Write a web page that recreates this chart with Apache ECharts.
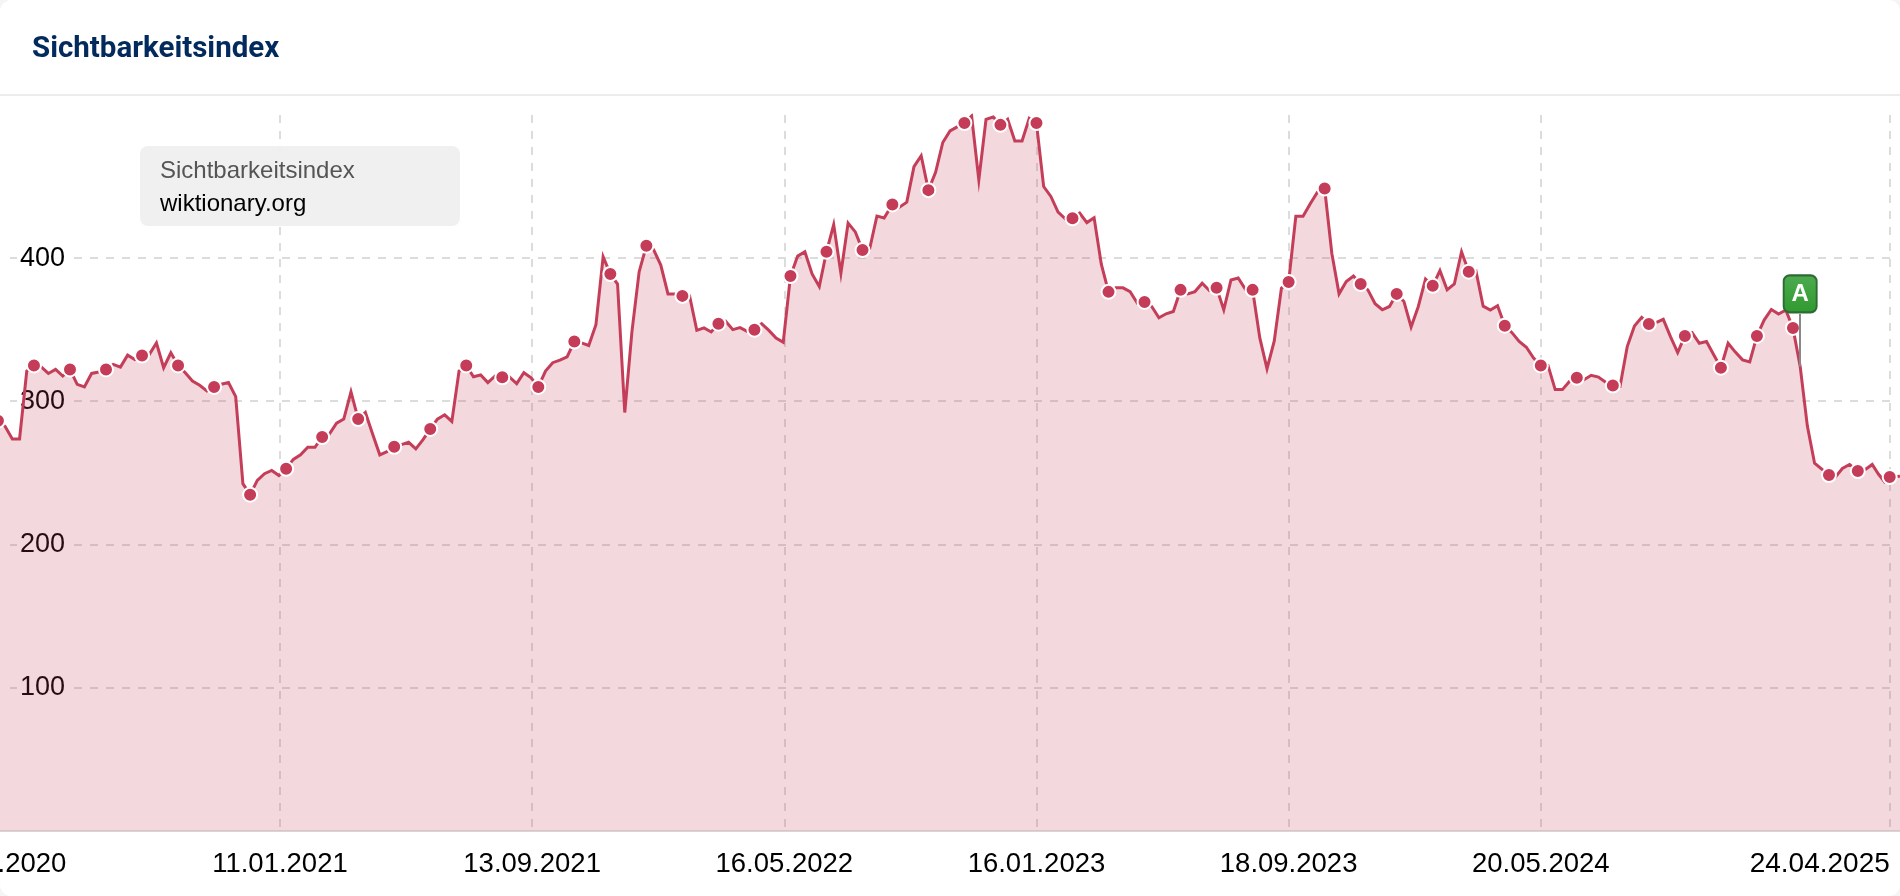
<!DOCTYPE html>
<html>
<head>
<meta charset="utf-8">
<style>
html,body{margin:0;padding:0;background:#f5f5f6;width:1900px;height:896px;overflow:hidden}
#card{width:1900px;height:896px;border-radius:12px;overflow:hidden;background:#fff}
#chart{width:1900px;height:896px}
</style>
<script src="https://cdn.jsdelivr.net/npm/echarts@6/dist/echarts.min.js"></script>
</head>
<body>
<div id="card"><div id="chart"></div></div>
<script>
const chartTitle = 'Sichtbarkeitsindex';
const boxLine1 = 'Sichtbarkeitsindex';
const boxLine2 = 'wiktionary.org';

// Rows of five: the last value of each row carries a marker.
const valuesFirstRun = [286.3,
  282.4,273.6,273.6,321.1,325,
  324,319.4,322.2,317.6,322.2,
  311.8,310,319.4,320.4,322.2,
  325.7,323.8,332.2,329.2,331.9,
  332.6,340.7,323.4,333.8,325,
  319.9,314.1,311.1,307.2,310,
  311.8,313,303.2,242.4,234.7,
  244.7,249.3,251.6,248.1,252.8,
  259.3,262.5,267.8,267.8,275,
  277.1,284.7,287.5,306.5,287.5,
  292.1,277.1,262.5,264.8,268.1,
  269.7,271.3,266.7,273.1,280.6,
  287.5,290.5,285.9,321.1,325,
  317.1,318.3,313,317.6,316.7,
  316.9,312.3,319.9,316.4,310,
  321.1,326.9,328.7,331,341.7,
  340.7,338.9,353.5,400.9,388.9,
  381.9,292.1,348.8,390.5,408.6,
  406,395.1,375,375,373.6,
  373.6,349.5,351.2,348.4,354.2,
  355.8,350,351.4,348.8,350,
  354.2,349.5,344.2,341.2,387.5,
  401.4,404.4,388.9,380.1,404.4,
  423.4,389.4,424.5,418.3,405.6];
const valuesBridge = [406.7,429.4,428];
const valuesSecondRun = [437.5,
  435.6,439.1,463.9,471.5,447.5,
  460,480.8,488.9,491.7,494.4,
  499.3,454.6,497,498.6,493.1,
  497,481.9,481.9,497.7,494.4,
  450,443.1,432.2,427.5,427.8,
  431.5,424.8,428.2,395.8,376.4,
  379.2,379.2,376.6,368.5,369.4,
  366.2,358.3,361.1,362.7,377.8,
  375,376.6,382.4,377.3,379.2,
  363.9,384.7,386.1,378.2,377.8,
  344.2,322.7,341.9,378.9,383.3,
  429.2,429.2,438,446.1,448.6,
  403.2,375,383.6,387.5,381.9,
  377.8,368.1,363.9,366.2,375,
  369.7,351.9,366.2,385.4,380.6,
  391.2,377.8,381.9,404.4,390.5,
  391,366.4,363.7,366.7,352.8,
  347.9,341.7,337.7,330.1,325,
  325,308.1,308.1,313.9,316.4,
  315,318.1,316.9,313.2,310.9,
  310.4,338.2,352.5,358.6,353.9,
  354.9,357.2,345.1,334,345.6,
  347.9,340.5,341.7,332.4,323.4,
  340.5,334.3,328.9,327.5,345.6,
  356.7,364.1,360.9,363.7,351.2,
  324.3,282.6,256.7,252.5,248.4];
const valuesTail = [246.8,253,255.8,251.2,251.6,255.8,249.1,243.7,247,247.5];

const bridgeDates = ['2022-08-07','2022-08-14','2022-08-21'];
const tailDates = ['2025-03-02','2025-03-09','2025-03-16','2025-03-24','2025-03-30','2025-04-07','2025-04-13','2025-04-19','2025-04-24','2025-05-04'];
const tickDates = ['2020-04-14','2021-01-11','2021-09-13','2022-05-16','2023-01-16','2023-09-18','2024-05-20','2025-04-24'];
const yTicks = [100,200,300,400];
const axisStart = '2020-04-14';
const axisEnd = '2025-05-04';
const eventDate = '2025-01-27';
const eventStem = [324.3, 361];
const eventBox = 375;

const DAY = 86400000;
const ts = s => Date.parse(s + 'T00:00:00Z');
function weekly(start, n){ const a=[]; for(let i=0;i<n;i++) a.push(ts(start)+i*7*DAY); return a; }

const dates = [].concat(
  weekly('2020-04-12', valuesFirstRun.length),
  bridgeDates.map(ts),
  weekly('2022-08-29', valuesSecondRun.length),
  tailDates.map(ts)
);
const values = [].concat(valuesFirstRun, valuesBridge, valuesSecondRun, valuesTail);
const linePoints = dates.map((d,i)=>[d,values[i]]);

const markerIdx = [];
for(let i=0;i<valuesFirstRun.length;i+=5) markerIdx.push(i);
const secondStart = valuesFirstRun.length + valuesBridge.length;
for(let i=0;i<valuesSecondRun.length;i+=5) markerIdx.push(secondStart+i);
const tailStart = secondStart + valuesSecondRun.length;
markerIdx.push(tailStart+3, tailStart+8);
const markerPoints = markerIdx.map(i=>linePoints[i]);

const LINE = '#c43e59';
const fmt = v => { const d=new Date(v); const p=n=>String(n).padStart(2,'0');
  return p(d.getUTCDate())+'.'+p(d.getUTCMonth()+1)+'.'+d.getUTCFullYear(); };
const firstTick = ts(tickDates[0]);
const lastTick = ts(tickDates[tickDates.length-1]);

const chart = echarts.init(document.getElementById('chart'), null, {renderer:'canvas', width:1900, height:896});
chart.setOption({
  animation:false,
  backgroundColor:'#fff',
  textStyle:{fontFamily:'"Liberation Sans",Arial,sans-serif'},
  title:{text:chartTitle,left:32,top:35,padding:0,
    textStyle:{fontFamily:'Roboto',fontWeight:700,fontSize:29.5,color:'#022a5c',lineHeight:30}},
  grid:{left:0,right:0,top:115,bottom:65.5,containLabel:false,outerBoundsMode:'none'},
  xAxis:{
    type:'value',min:ts(axisStart),max:ts(axisEnd),scale:true,
    axisLine:{show:true,lineStyle:{color:'#dcd3d5',width:2}},
    axisTick:{show:false,customValues:tickDates.map(ts)},
    axisLabel:{
      customValues:tickDates.map(ts),
      showMinLabel:true,showMaxLabel:true,hideOverlap:false,
      margin:20,color:'#000',fontSize:27.5,fontFamily:'"Liberation Sans"',
      formatter:v=> v===lastTick ? '{last|'+fmt(v)+'}' : v===firstTick ? '{first|'+fmt(v)+'}' : fmt(v),
      rich:{
        last:{fontSize:28,color:'#000',fontFamily:'"Liberation Sans"',padding:[0,140,0,0]},
        first:{fontSize:27.5,color:'#000',fontFamily:'"Liberation Sans"',padding:[0,5,0,0]}
      }
    },
    splitLine:{show:true,lineStyle:{color:'#dcdcdc',width:2,type:[8,8]}}
  },
  yAxis:{
    type:'value',min:0,max:500,interval:100,
    axisLine:{show:false},
    axisTick:{show:false,customValues:yTicks},
    axisLabel:{
      customValues:yTicks,inside:true,margin:17,color:'#000',fontSize:27,
      fontFamily:'"Liberation Sans"',backgroundColor:'#fff',padding:[0,7,0,3]
    },
    splitLine:{show:true,lineStyle:{color:'#dcdcdc',width:2,type:[8,8],dashOffset:6}}
  },
  graphic:[
    {type:'rect',z:1,silent:true,shape:{x:0,y:110,width:10,height:719},style:{fill:'#fff'}},
    {type:'rect',z:1,silent:true,shape:{x:1891.5,y:110,width:9,height:719},style:{fill:'#fff'}},
    {type:'rect',z:1,silent:true,shape:{x:0,y:94,width:1900,height:2},style:{fill:'#ececec'}},
    {type:'rect',z:50,silent:true,shape:{x:140,y:146,width:320,height:80,r:8},style:{fill:'rgba(239,239,239,0.93)'}},
    {type:'text',z:51,silent:true,x:160,y:171,style:{text:boxLine1,font:'24px "Liberation Sans"',fill:'#555',textVerticalAlign:'middle'}},
    {type:'text',z:51,silent:true,x:160,y:204,style:{text:boxLine2,font:'24px "Liberation Sans"',fill:'#000',textVerticalAlign:'middle'}}
  ],
  series:[
    {
      type:'line',data:linePoints,showSymbol:false,symbol:'none',smooth:false,clip:true,
      lineStyle:{color:LINE,width:3,join:'miter'},
      areaStyle:{color:'rgba(196,62,89,0.2)',origin:'start',opacity:1},
      markLine:{
        silent:true,symbol:'none',label:{show:false},
        lineStyle:{color:'#888',width:2,type:'solid'},
        data:[[{coord:[ts(eventDate),eventStem[0]]},{coord:[ts(eventDate),eventStem[1]]}]]
      }
    },
    {
      type:'scatter',data:markerPoints,symbol:'circle',symbolSize:14,z:3,clip:false,
      itemStyle:{color:'#c43c58',borderColor:'#fff',borderWidth:2,opacity:1},
      markPoint:{
        silent:true,
        symbol:'path://M6 0H27A6 6 0 0 1 33 6V31A6 6 0 0 1 27 37H6A6 6 0 0 1 0 31V6A6 6 0 0 1 6 0Z',
        symbolSize:[33,37],z:5,
        itemStyle:{
          color:new echarts.graphic.LinearGradient(0,0,0,1,[{offset:0,color:'#4dab4f'},{offset:1,color:'#2f992f'}]),
          borderColor:'#2d6b35',borderWidth:2
        },
        label:{show:true,position:'inside',formatter:'A',color:'#fff',fontWeight:'bold',fontSize:24,fontFamily:'"Liberation Sans"'},
        data:[{coord:[ts(eventDate),eventBox]}]
      }
    }
  ]
});
</script>
</body>
</html>
